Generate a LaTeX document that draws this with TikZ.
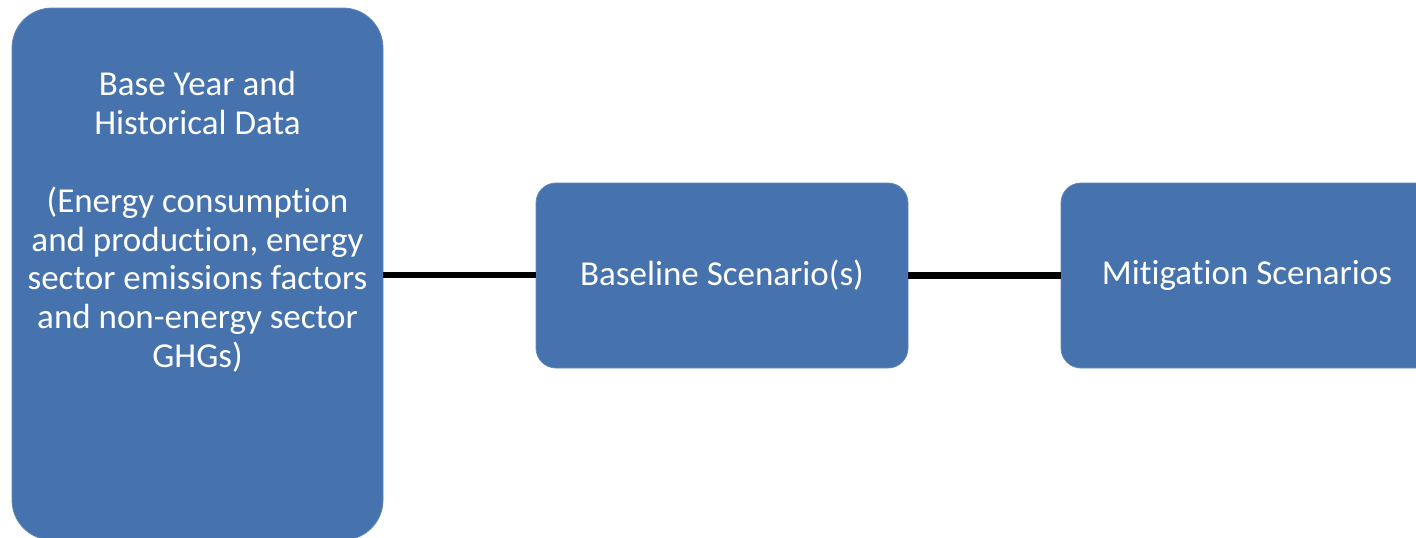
\documentclass[tikz,border=0pt]{standalone}
\usepackage{fontspec}
\setmainfont{Carlito}[Ligatures=NoCommon]
\definecolor{boxblue}{RGB}{70,114,173}
\begin{document}
\begin{tikzpicture}[x=1pt,y=-1pt,
  bluebox/.style={draw=boxblue!85!white, line width=0.8pt, fill=boxblue, rectangle, inner sep=0pt},
  boxtext/.style={text=white, font=\fontsize{35}{38.8}\selectfont, align=center},
  link/.style={line width=6.5pt, black}]
\useasboundingbox (0,0) rectangle (1416,538);
\clip (0,0) rectangle (1416,538);
\node[bluebox, rounded corners=40pt, minimum width=371pt, minimum height=532pt] (base) at (197.5,274) {};
\node[boxtext] (basetext) at (197.5,222) {Base Year and\\Historical Data\\[38.8pt](Energy consumption\\and production, energy\\sector emissions factors\\and non-energy sector\\GHGs)};
\node[bluebox, rounded corners=20pt, minimum width=372pt, minimum height=185pt] (baseline) at (722,275.5) {};
\node[boxtext] (baselinetext) at (722,275.5) {Baseline Scenario(s)};
\node[bluebox, rounded corners=20pt, minimum width=420pt, minimum height=185pt] (mitig) at (1271,275.5) {};
\node[boxtext] (mitigtext) at (1247,275.5) {Mitigation Scenarios};
\draw[link] (base.east |- 0,275) -- (baseline.west |- 0,275);
\draw[link] (baseline.east) -- (mitig.west);
\end{tikzpicture}
\end{document}
